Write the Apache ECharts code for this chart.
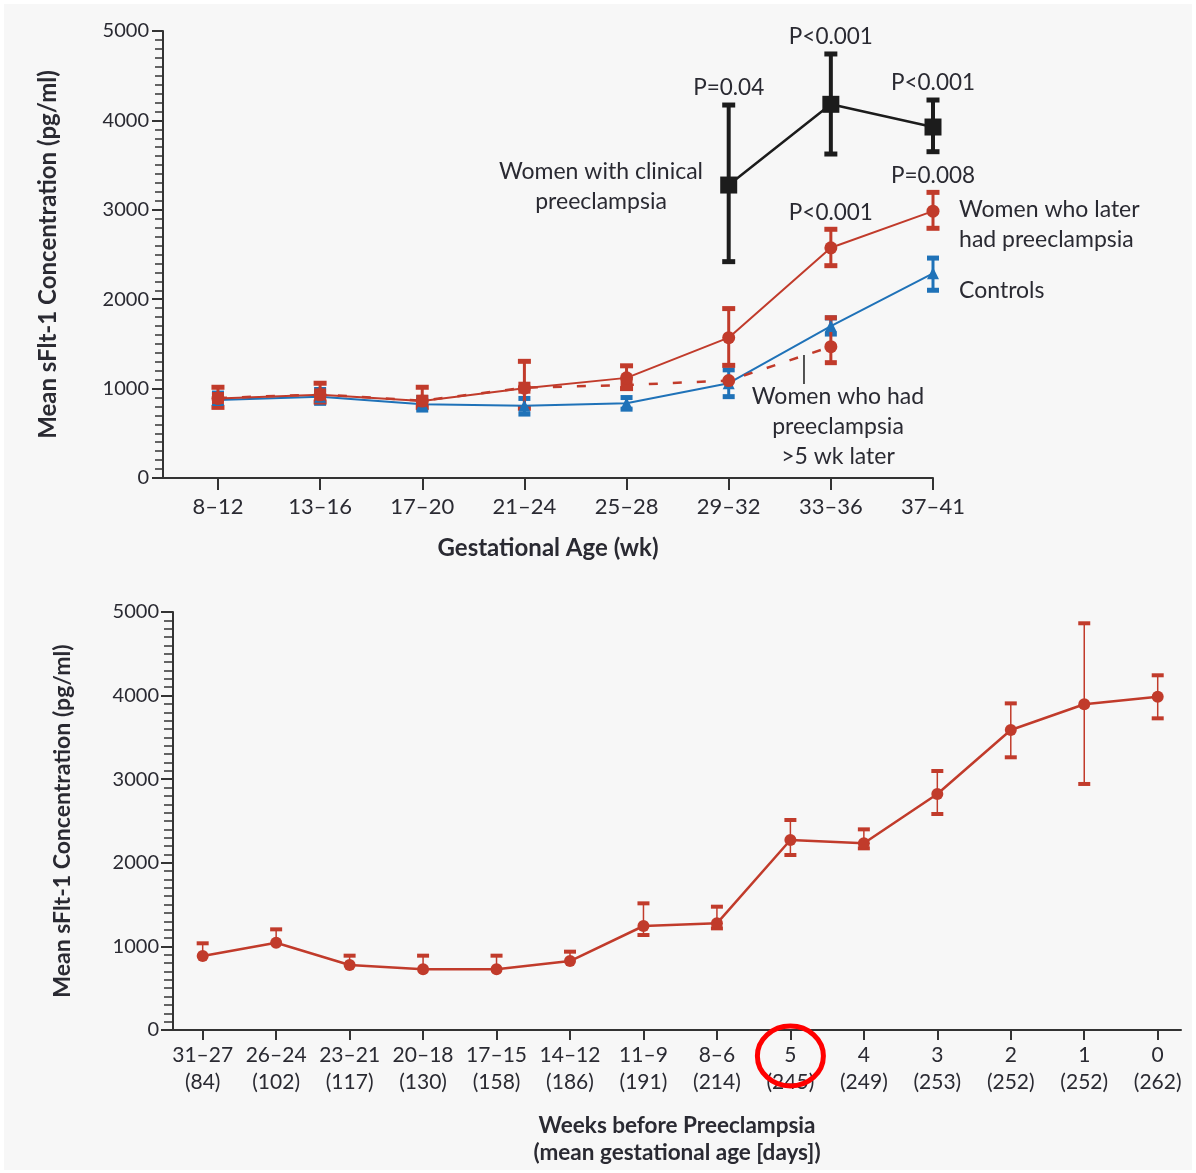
<!DOCTYPE html>
<html><head><meta charset="utf-8">
<script src="https://cdn.jsdelivr.net/npm/echarts@6/dist/echarts.min.js"></script>
<style>
html,body{margin:0;padding:0;background:#ffffff;}
#c{position:absolute;left:4px;top:4px;width:1188px;height:1166px;}
</style></head><body><div id="c"></div>
<script>
// ---------------- Top panel: sFlt-1 by gestational age ----------------
const topCategories = ['8–12','13–16','17–20','21–24','25–28','29–32','33–36','37–41'];

const clinicalIdx  = [5, 6, 7];
const clinicalMean = [3277, 4180, 3926];
const clinicalLow  = [2420, 3624, 3650];
const clinicalHigh = [4172, 4743, 4228];
const clinicalP    = ['P=0.04', 'P<0.001', 'P<0.001'];

const laterMean = [890, 930, 860, 1005, 1120, 1570, 2575, 2985];
const laterLow  = [790, 850, 790, 780, 1000, 1260, 2375, 2793];
const laterHigh = [1015, 1060, 1015, 1305, 1255, 1895, 2782, 3195];
const laterP    = ['', '', '', '', '', '', 'P<0.001', 'P=0.008'];

const gt5Mean = [895, 935, 865, 1010, 1040, 1090, 1469];
const gt5Low  = [null, null, null, null, null, null, 1290];
const gt5High = [null, null, null, null, null, null, 1793];

const controlsMean = [872, 910, 825, 808, 835, 1060, 1700, 2290];
const controlsLow  = [800, 835, 760, 715, 770, 910, 1610, 2100];
const controlsHigh = [950, 990, 900, 890, 900, 1210, 1790, 2460];

const topNoteText  = ['Women with clinical\npreeclampsia', 'Women who later\nhad preeclampsia', 'Controls', 'Women who had\npreeclampsia\n>5 wk later'];
const topNoteX     = [3.75, 7.255, 7.255, 6.07];
const topNoteY     = [3260, 2836, 2092, 570];
const topNoteAlign = ['center', 'left', 'left', 'center'];
const leaderLine   = [[5.737, 1376], [5.737, 1051]];

// ---------------- Bottom panel: sFlt-1 by weeks before preeclampsia ----------------
const weekLabels = ['31–27','26–24','23–21','20–18','17–15','14–12','11–9','8–6','5','4','3','2','1','0'];
const gaDays     = ['84','102','117','130','158','186','191','214','245','249','253','252','252','262'];
const preMean = [885, 1044, 777, 726, 726, 825, 1244, 1276, 2273, 2233, 2823, 3589, 3896, 3987];
const preLow  = [null, null, null, null, null, null, 1136, 1216, 2093, 2173, 2584, 3262, 2943, 3728];
const preHigh = [1037, 1204, 889, 889, 889, 937, 1515, 1475, 2512, 2400, 3098, 3907, 4865, 4243];
const highlightIdx = 8;

// ---------------- styles ----------------
const FONT = 'Lato, "Liberation Sans", sans-serif';
const TXT = '#2a2a32';
const AX = '#333333';
const RED = '#c13b2b', BLUE = '#1f72b8', BLACK = '#1c1c1c';

const chart = echarts.init(document.getElementById('c'));

function pts(xs, ys) { return ys.map((y, i) => [xs[i], y]); }
function errData(xs, m, lo, hi) {
  return m.map((v, i) => [xs[i], v, lo[i] == null ? NaN : lo[i], hi[i] == null ? NaN : hi[i]]);
}
function errSeries(g, data, color, lw, capW, capH, labels, z) {
  return {
    type: 'custom', xAxisIndex: g, yAxisIndex: g, data: data, z: z, clip: false,
    encode: { x: 0, y: 1 }, silent: true,
    renderItem: function (params, api) {
      const x = api.value(0), m = api.value(1), lo = api.value(2), hi = api.value(3);
      const pm = api.coord([x, m]);
      const ch = [];
      [lo, hi].forEach(function (e) {
        if (!isFinite(e)) return;
        const p = api.coord([x, e]);
        ch.push({ type: 'line', shape: { x1: pm[0], y1: pm[1], x2: p[0], y2: p[1] }, style: { stroke: color, lineWidth: lw } });
        ch.push({ type: 'rect', shape: { x: p[0] - capW / 2, y: p[1] - capH / 2, width: capW, height: capH }, style: { fill: color } });
      });
      const t = labels && labels[params.dataIndex];
      if (t && isFinite(hi)) {
        const p = api.coord([x, hi]);
        ch.push({ type: 'text', x: p[0], y: p[1] - 17, style: { text: t, fill: TXT, fontSize: 22.5, fontFamily: FONT, align: 'center', verticalAlign: 'middle' } });
      }
      return { type: 'group', children: ch };
    }
  };
}

const topIdx = topCategories.map((_, i) => i);
const botIdx = weekLabels.map((_, i) => i);

function yAxisCfg(g, name, nameGap, nameSize, majorLen, minorLen) {
  return {
    type: 'value', gridIndex: g, min: 0, max: 5000, interval: 1000,
    axisLine: { show: true, onZero: false, lineStyle: { color: AX, width: 2 } },
    axisTick: { show: true, length: majorLen, lineStyle: { color: AX, width: 2 } },
    minorTick: { show: true, splitNumber: 10, length: minorLen, lineStyle: { color: AX, width: 1.5 } },
    splitLine: { show: false }, minorSplitLine: { show: false },
    axisLabel: { color: TXT, fontSize: 20, fontFamily: FONT, margin: 14, formatter: v => String(v) },
    name: name, nameLocation: 'middle', nameRotate: 90, nameGap: nameGap,
    nameTextStyle: { color: TXT, fontSize: nameSize, fontWeight: 'bold', fontFamily: FONT }
  };
}

const option = {
  backgroundColor: '#f7f7f7',
  animation: false,
  grid: [
    { left: 159, top: 27, width: 770, height: 447, outerBoundsMode: 'none', containLabel: false },
    { left: 169, top: 608, width: 1008, height: 418, outerBoundsMode: 'none', containLabel: false }
  ],
  xAxis: [
    {
      type: 'value', gridIndex: 0, min: -0.538, max: 7,
      axisLine: { show: true, onZero: false, lineStyle: { color: AX, width: 2 } },
      axisTick: { show: true, customValues: topIdx, length: 12, lineStyle: { color: AX, width: 2 } },
      axisLabel: { customValues: topIdx, formatter: v => topCategories[Math.round(v)], color: TXT, fontSize: 22, fontFamily: FONT, margin: 18 },
      splitLine: { show: false },
      name: 'Gestational Age (wk)', nameLocation: 'middle', nameGap: 58,
      nameTextStyle: { color: TXT, fontSize: 24, fontWeight: 'bold', fontFamily: FONT }
    },
    {
      type: 'value', gridIndex: 1, min: -0.404, max: 13.317,
      axisLine: { show: true, onZero: false, lineStyle: { color: AX, width: 2 } },
      axisTick: { show: true, customValues: botIdx, length: 10, lineStyle: { color: AX, width: 2 } },
      axisLabel: { customValues: botIdx, formatter: v => weekLabels[Math.round(v)] + '\n(' + gaDays[Math.round(v)] + ')', color: TXT, fontSize: 21, fontFamily: FONT, margin: 12, lineHeight: 27 },
      splitLine: { show: false },
      name: 'Weeks before Preeclampsia\n(mean gestational age [days])', nameLocation: 'middle', nameGap: 82,
      nameTextStyle: { color: TXT, fontSize: 22.5, fontWeight: 'bold', fontFamily: FONT, lineHeight: 27 }
    }
  ],
  yAxis: [
    yAxisCfg(0, 'Mean sFlt-1 Concentration (pg/ml)', 103, 24, 11, 8),
    yAxisCfg(1, 'Mean sFlt-1 Concentration (pg/ml)', 99, 23, 12, 9)
  ],
  series: [
    // error bars (top)
    errSeries(0, errData(topIdx, controlsMean, controlsLow, controlsHigh), BLUE, 3, 12, 5, null, 2),
    errSeries(0, errData(topIdx, gt5Mean, gt5Low, gt5High), RED, 3, 12, 5, null, 3),
    errSeries(0, errData(topIdx, laterMean, laterLow, laterHigh), RED, 3, 13, 5, laterP, 4),
    errSeries(0, errData(clinicalIdx, clinicalMean, clinicalLow, clinicalHigh), BLACK, 4, 13, 5, clinicalP, 5),
    {
      type: 'line', xAxisIndex: 0, yAxisIndex: 0, data: pts(topIdx, controlsMean), z: 6,
      symbol: 'triangle', symbolSize: 12, itemStyle: { color: BLUE }, lineStyle: { color: BLUE, width: 2 }
    },
    {
      type: 'line', xAxisIndex: 0, yAxisIndex: 0, z: 7,
      data: gt5Mean.map((v, i) => ({ value: [topIdx[i], v], symbol: i < 5 ? 'rect' : 'circle', symbolSize: i < 5 ? 12 : 13 })),
      itemStyle: { color: RED }, lineStyle: { color: RED, width: 2.5, type: [9, 15] }
    },
    {
      type: 'line', xAxisIndex: 0, yAxisIndex: 0, data: pts(topIdx, laterMean), z: 8,
      symbol: 'circle', symbolSize: 13, itemStyle: { color: RED }, lineStyle: { color: RED, width: 2 }
    },
    {
      type: 'line', xAxisIndex: 0, yAxisIndex: 0, data: pts(clinicalIdx, clinicalMean), z: 9,
      symbol: 'rect', symbolSize: 17, itemStyle: { color: BLACK }, lineStyle: { color: BLACK, width: 2.5 }
    },
    {
      type: 'line', xAxisIndex: 0, yAxisIndex: 0, data: leaderLine, z: 9, symbol: 'none',
      lineStyle: { color: BLACK, width: 1.5 }, silent: true
    },
    {
      type: 'custom', xAxisIndex: 0, yAxisIndex: 0, z: 10, clip: false, silent: true,
      data: topNoteX.map((x, i) => [x, topNoteY[i]]), encode: { x: 0, y: 1 },
      renderItem: function (params, api) {
        const p = api.coord([api.value(0), api.value(1)]);
        const i = params.dataIndex;
        return { type: 'text', x: p[0], y: p[1], style: { text: topNoteText[i], fill: TXT, fontSize: 23, fontFamily: FONT, lineHeight: 30, align: topNoteAlign[i], verticalAlign: 'middle' } };
      }
    },
    // bottom panel
    errSeries(1, errData(botIdx, preMean, preLow, preHigh), RED, 1.5, 12, 4, null, 3),
    {
      type: 'line', xAxisIndex: 1, yAxisIndex: 1, data: pts(botIdx, preMean), z: 8,
      symbol: 'circle', symbolSize: 12, itemStyle: { color: RED }, lineStyle: { color: RED, width: 2.5 }
    },
    {
      type: 'custom', xAxisIndex: 1, yAxisIndex: 1, z: 20, clip: false, silent: true,
      data: [[highlightIdx, 0]], encode: { x: 0, y: 1 },
      renderItem: function (params, api) {
        const p = api.coord([api.value(0), api.value(1)]);
        return { type: 'ellipse', shape: { cx: p[0], cy: p[1] + 26, rx: 33, ry: 30 }, style: { fill: 'none', stroke: '#ff0000', lineWidth: 5 } };
      }
    }
  ]
};
chart.setOption(option);
</script></body></html>
